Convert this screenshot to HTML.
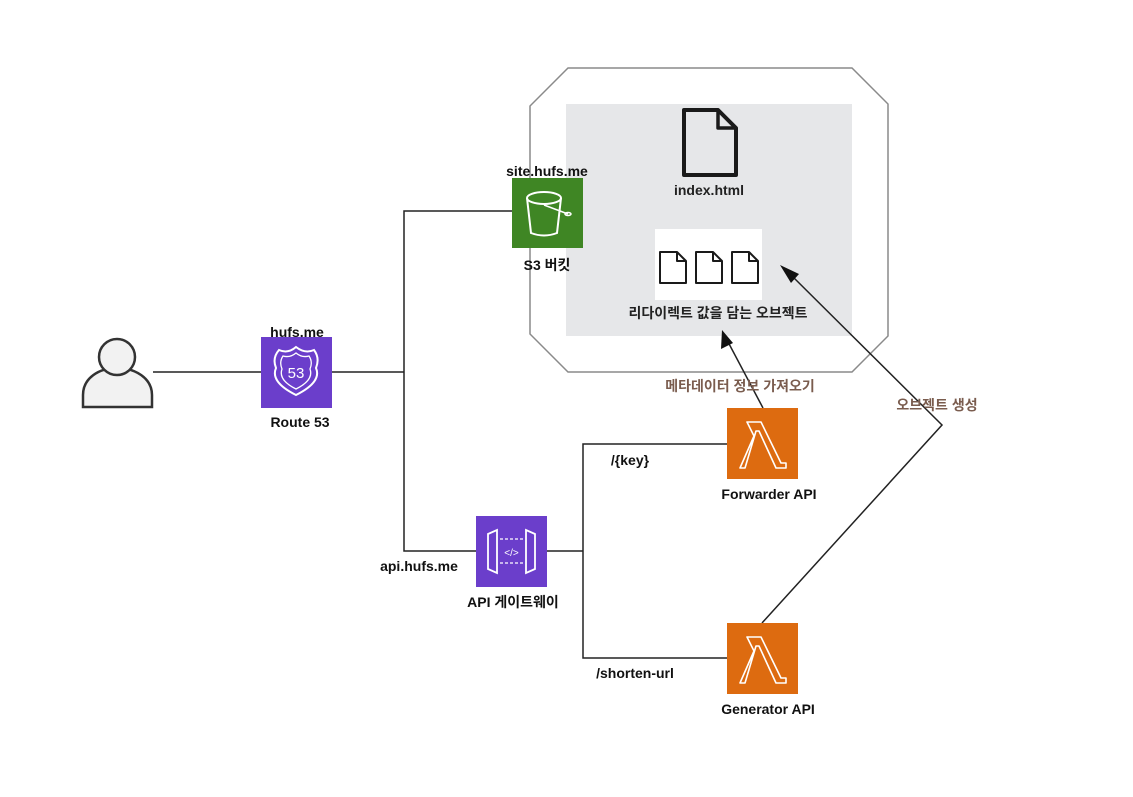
<!DOCTYPE html>
<html><head><meta charset="utf-8"><style>
html,body{margin:0;padding:0;background:#fff}
svg text{font-family:"Liberation Sans","Noto Sans CJK KR",sans-serif;font-weight:bold;}
</style></head><body>
<svg width="1133" height="792" viewBox="0 0 1133 792" xmlns="http://www.w3.org/2000/svg">
<rect width="1133" height="792" fill="#fff"/>
<polygon points="568,68 852,68 888,104 888,336 852,372 568,372 530,334 530,106" fill="#fff" stroke="#8a8a8a" stroke-width="1.5"/>
<rect x="566" y="104" width="286" height="232" fill="#e6e7e9"/>
<path d="M684,110 L718,110 L736,128 L736,175 L684,175 Z" fill="none" stroke="#1a1a1a" stroke-width="4" stroke-linejoin="round"/>
<path d="M718,110 L718,128 L736,128" fill="none" stroke="#1a1a1a" stroke-width="3.5" stroke-linejoin="round"/>
<text x="709" y="195" font-size="14" text-anchor="middle" fill="#222">index.html</text>
<rect x="655" y="229" width="107" height="71" fill="#fff"/>
<g fill="none" stroke="#1a1a1a" stroke-width="2" stroke-linejoin="round">
<path d="M660,252 L677,252 L686,261 L686,283 L660,283 Z M677,252 L677,261 L686,261"/>
<path d="M696,252 L713,252 L722,261 L722,283 L696,283 Z M713,252 L713,261 L722,261"/>
<path d="M732,252 L749,252 L758,261 L758,283 L732,283 Z M749,252 L749,261 L758,261"/>
</g>
<text x="718" y="318" font-size="14" text-anchor="middle" fill="#222">리다이렉트 값을 담는 오브젝트</text>
<g stroke="#222" stroke-width="1.5" fill="none">
<line x1="153" y1="372" x2="261" y2="372"/>
<line x1="332" y1="372" x2="404" y2="372"/>
<polyline points="512,211 404,211 404,551 476,551"/>
<line x1="547" y1="551" x2="583" y2="551"/>
<polyline points="727,444 583,444 583,658 727,658"/>
<line x1="763" y1="408" x2="727" y2="340"/>
<polyline points="762,623 942,425 790,274"/>
</g>
<polygon points="722,330 721,349 733,343" fill="#111"/>
<polygon points="780,265 791,283 799,274" fill="#111"/>
<text x="740" y="391" font-size="14" text-anchor="middle" fill="#7a5c4e">메타데이터 정보 가져오기</text>
<text x="937" y="410" font-size="14" text-anchor="middle" fill="#7a5c4e">오브젝트 생성</text>
<g fill="#f2f2f2" stroke="#333" stroke-width="2.5">
<path d="M83,407 L83,395 C83,378 99,368 117,368 C135,368 152,378 152,395 L152,407 Z"/>
<circle cx="117" cy="357" r="18"/>
</g>
<rect x="261" y="337" width="71" height="71" fill="#6b3ecb"/>
<path d="M279,350 Q288,354 296,347 Q305,354 314,350 Q320,358 316,368 Q322,382 296,395 Q270,382 276,368 Q272,358 279,350 Z" fill="none" stroke="#fff" stroke-width="2"/>
<path d="M283,356 Q290,358 296,353 Q302,358 309,356 Q313,362 310,369 Q314,380 296,389 Q278,380 282,369 Q279,362 283,356 Z" fill="none" stroke="#fff" stroke-width="1.3"/>
<text x="296" y="378" font-size="15" text-anchor="middle" fill="#fff" style="font-weight:normal">53</text>
<text x="297" y="337" font-size="14" text-anchor="middle" fill="#111">hufs.me</text>
<text x="300" y="427" font-size="14" text-anchor="middle" fill="#111">Route 53</text>
<rect x="512" y="178" width="71" height="70" fill="#3f8624"/>
<g fill="none" stroke="#fff" stroke-width="2">
<ellipse cx="544" cy="198" rx="17" ry="6"/>
<path d="M527,198 L531,233 Q544,238 557,233 L561,198"/>
<path d="M544,205 L568,214" stroke-width="1.5"/>
<ellipse cx="568" cy="214" rx="3" ry="1.5" stroke-width="1.5"/>
</g>
<text x="547" y="176" font-size="14" text-anchor="middle" fill="#111">site.hufs.me</text>
<text x="547" y="270" font-size="14" text-anchor="middle" fill="#111">S3 버킷</text>
<rect x="476" y="516" width="71" height="71" fill="#6b3ecb"/>
<g fill="none" stroke="#fff" stroke-width="1.8">
<path d="M488,534 L497,530 L497,573 L488,569 Z"/>
<path d="M535,534 L526,530 L526,573 L535,569 Z"/>
<path d="M500,539 L523,539 M500,563 L523,563" stroke-dasharray="3,2" stroke-width="1.3"/>
</g>
<text x="511.5" y="556" font-size="10" text-anchor="middle" fill="#fff" style="font-weight:normal">&lt;/&gt;</text>
<text x="419" y="571" font-size="14" text-anchor="middle" fill="#111">api.hufs.me</text>
<text x="513" y="607" font-size="14" text-anchor="middle" fill="#111">API 게이트웨이</text>
<rect x="727" y="408" width="71" height="71" fill="#dd6b10"/>
<path d="M747,422 L761,422 L781,463 L786,463 L786,468 L776,468 L759,431 L756,431 L745,468 L740,468 L754,436 L747,422 Z" fill="none" stroke="#fff" stroke-width="1.6" stroke-linejoin="round"/>
<text x="630" y="465" font-size="14" text-anchor="middle" fill="#111">/{key}</text>
<text x="769" y="499" font-size="14" text-anchor="middle" fill="#111">Forwarder API</text>
<rect x="727" y="623" width="71" height="71" fill="#dd6b10"/>
<path d="M747,637 L761,637 L781,678 L786,678 L786,683 L776,683 L759,646 L756,646 L745,683 L740,683 L754,651 L747,637 Z" fill="none" stroke="#fff" stroke-width="1.6" stroke-linejoin="round"/>
<text x="635" y="678" font-size="14" text-anchor="middle" fill="#111">/shorten-url</text>
<text x="768" y="714" font-size="14" text-anchor="middle" fill="#111">Generator API</text>
</svg>
</body></html>
